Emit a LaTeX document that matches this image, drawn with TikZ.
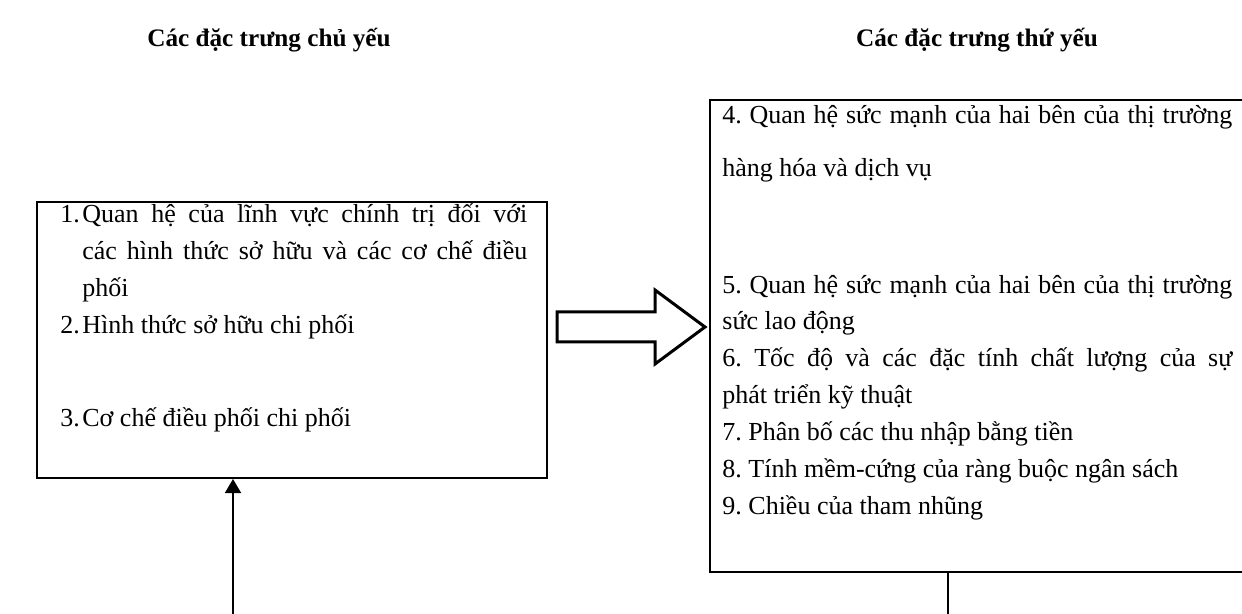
\documentclass[tikz,border=0pt]{standalone}
\usepackage{fontspec}
\setmainfont{Liberation Serif}
\usetikzlibrary{arrows.meta}
\frenchspacing
\begin{document}
\begin{tikzpicture}[x=0.5pt,y=-0.5pt,
  txt/.style={anchor=base west, inner sep=0pt, font=\fontsize{13}{15}\selectfont},
  hdr/.style={anchor=base, inner sep=0pt, font=\fontsize{12.6}{15}\selectfont\bfseries},
  frame/.style={draw, line width=1pt, inner sep=0pt},
  conn/.style={line width=0.8pt},
  blockarrow/.style={draw, line width=1.5pt, line join=miter}]
\useasboundingbox (0,0) rectangle (1242,614);
% headers
\node[hdr] (h1) at (269,47) {Các đặc trưng chủ yếu};
\node[hdr] (h2) at (977,47) {Các đặc trưng thứ yếu};
% left box
\node[frame, minimum width=255pt, minimum height=138pt] (L) at (292,340) {};
\node[txt] (n1) at (60,223) {1.};
\node[txt] (l1a) at (82,223) {\makebox[222.5pt][s]{Quan hệ của lĩnh vực chính trị đối với}};
\node[txt] (l1b) at (82,260) {\makebox[222.5pt][s]{các hình thức sở hữu và các cơ chế điều}};
\node[txt] (l1c) at (82,297) {phối};
\node[txt] (n2) at (60,334) {2.};
\node[txt] (l2) at (82,334) {Hình thức sở hữu chi phối};
\node[txt] (n3) at (60,427) {3.};
\node[txt] (l3) at (82,427) {Cơ chế điều phối chi phối};
% right box
\node[frame, minimum width=267pt, minimum height=236pt] (R) at (977,336) {};
\node[txt] (r4a) at (722,124) {\makebox[255pt][s]{4. Quan hệ sức mạnh của hai bên của thị trường}};
\node[txt] (r4b) at (722,177) {hàng hóa và dịch vụ};
\node[txt] (r5a) at (722,294) {\makebox[255pt][s]{5. Quan hệ sức mạnh của hai bên của thị trường}};
\node[txt] (r5b) at (722,330) {sức lao động};
\node[txt] (r6a) at (722,367) {\makebox[255pt][s]{6. Tốc độ và các đặc tính chất lượng của sự}};
\node[txt] (r6b) at (722,404) {phát triển kỹ thuật};
\node[txt] (r7) at (722,441) {7. Phân bố các thu nhập bằng tiền};
\node[txt] (r8) at (722,477) {8. Tính mềm-cứng của ràng buộc ngân sách};
\node[txt] (r9) at (722,514) {9. Chiều của tham nhũng};
% block arrow
\draw[blockarrow] (557,312) -- (655,312) -- (655,290) -- (705,327) -- (655,364) -- (655,342) -- (557,342) -- cycle;
% connectors
\coordinate (aL) at (233,614);
\draw[conn, -{Triangle[width=8pt,length=7pt]}] (aL) -- (aL |- L.south);
\coordinate (aR) at (948,614);
\draw[conn] (aR |- R.south) -- (aR);
\end{tikzpicture}
\end{document}
